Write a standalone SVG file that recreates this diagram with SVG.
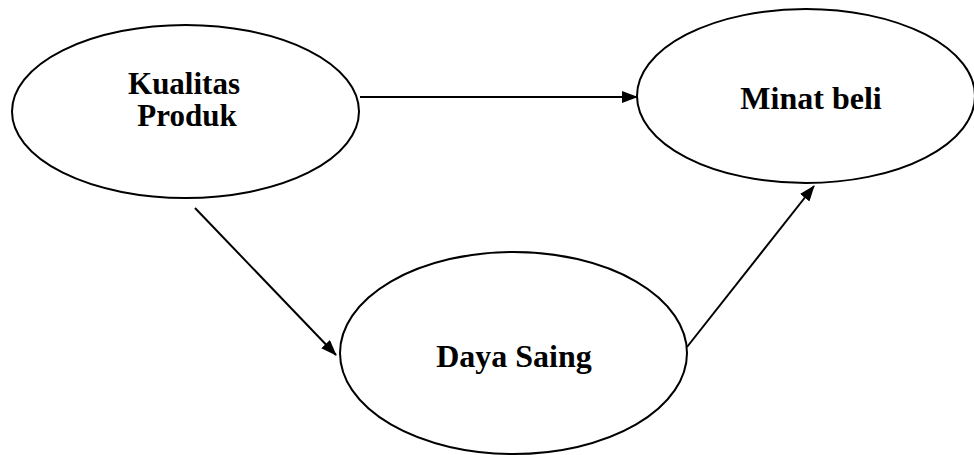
<svg xmlns="http://www.w3.org/2000/svg" width="974" height="455" viewBox="0 0 974 455">
  <style>
    .node { fill: #fff; stroke: #000; stroke-width: 2; }
    .label { font-family: "Liberation Serif", "Times New Roman", serif; font-weight: bold; font-size: 32px; fill: #000; text-anchor: middle; }
    .label.small { font-size: 31px; }
    .edge { stroke: #000; stroke-width: 2; fill: none; marker-end: url(#arrow); }
  </style>
  <defs>
    <marker id="arrow" markerWidth="16" markerHeight="12" refX="15" refY="6" orient="auto" markerUnits="userSpaceOnUse">
      <path d="M0,0 L16,6 L0,12 Z" fill="#000"/>
    </marker>
  </defs>
  <rect width="974" height="455" fill="#fff"/>

  <g id="kualitas-produk">
    <ellipse class="node" cx="185.5" cy="111.5" rx="173.5" ry="86.5"/>
    <text class="label small" x="184" y="94">Kualitas</text>
    <text class="label small" x="187" y="126">Produk</text>
  </g>

  <g id="minat-beli">
    <ellipse class="node" cx="806" cy="96" rx="169" ry="87"/>
    <text class="label" x="811" y="109">Minat beli</text>
  </g>

  <g id="daya-saing">
    <ellipse class="node" cx="513.5" cy="353" rx="173.5" ry="101"/>
    <text class="label" x="514" y="367">Daya Saing</text>
  </g>

  <g id="connectors">
    <line class="edge" x1="360" y1="97" x2="637" y2="97"/>
    <line class="edge" x1="195" y1="208" x2="336" y2="355"/>
    <line class="edge" x1="687" y1="347" x2="814" y2="186"/>
  </g>
</svg>
